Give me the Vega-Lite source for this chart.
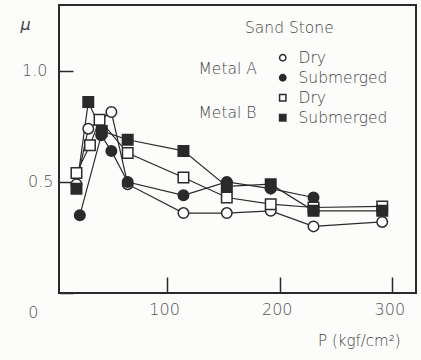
{
  "$schema": "https://vega.github.io/schema/vega-lite/v6.json",
  "width": 357,
  "height": 288,
  "autosize": "none",
  "padding": {"left": 59, "top": 5, "right": 5, "bottom": 67},
  "background": "#fcfcfb",
  "config": {
    "view": {"stroke": "#2a2a2a", "strokeWidth": 2},
    "font": "DejaVu Sans",
    "legend": {"padding": 0}
  },
  "title": {
    "text": "Sand Stone",
    "anchor": "start",
    "frame": "group",
    "orient": "top",
    "baseline": "top",
    "offset": 0,
    "dx": 186,
    "dy": 31,
    "fontSize": 15.5,
    "fontWeight": 300,
    "color": "#444"
  },
  "data": {
    "values": [
      {"p": 19.5, "mu": 0.49, "series": "A Dry", "metal": "Metal A"},
      {"p": 30, "mu": 0.74, "series": "A Dry", "metal": "Metal A"},
      {"p": 50.5, "mu": 0.815, "series": "A Dry", "metal": "Metal A"},
      {"p": 65, "mu": 0.49, "series": "A Dry", "metal": "Metal A"},
      {"p": 114.5, "mu": 0.36, "series": "A Dry", "metal": "Metal A"},
      {"p": 153, "mu": 0.36, "series": "A Dry", "metal": "Metal A"},
      {"p": 192, "mu": 0.37, "series": "A Dry", "metal": "Metal A"},
      {"p": 230, "mu": 0.3, "series": "A Dry", "metal": "Metal A"},
      {"p": 291, "mu": 0.32, "series": "A Dry", "metal": "Metal A"},
      {"p": 22.5, "mu": 0.35, "series": "A Submerged", "metal": "Metal A"},
      {"p": 41.5, "mu": 0.71, "series": "A Submerged", "metal": "Metal A"},
      {"p": 50.5, "mu": 0.64, "series": "A Submerged", "metal": "Metal A"},
      {"p": 65, "mu": 0.5, "series": "A Submerged", "metal": "Metal A"},
      {"p": 114.5, "mu": 0.44, "series": "A Submerged", "metal": "Metal A"},
      {"p": 153, "mu": 0.5, "series": "A Submerged", "metal": "Metal A"},
      {"p": 192, "mu": 0.47, "series": "A Submerged", "metal": "Metal A"},
      {"p": 230, "mu": 0.43, "series": "A Submerged", "metal": "Metal A"},
      {"p": 19.5, "mu": 0.54, "series": "B Dry", "metal": "Metal B"},
      {"p": 31.5, "mu": 0.665, "series": "B Dry", "metal": "Metal B"},
      {"p": 40, "mu": 0.78, "series": "B Dry", "metal": "Metal B"},
      {"p": 65, "mu": 0.63, "series": "B Dry", "metal": "Metal B"},
      {"p": 114.5, "mu": 0.52, "series": "B Dry", "metal": "Metal B"},
      {"p": 153, "mu": 0.43, "series": "B Dry", "metal": "Metal B"},
      {"p": 192, "mu": 0.4, "series": "B Dry", "metal": "Metal B"},
      {"p": 230, "mu": 0.385, "series": "B Dry", "metal": "Metal B"},
      {"p": 291, "mu": 0.39, "series": "B Dry", "metal": "Metal B"},
      {"p": 19.5, "mu": 0.47, "series": "B Submerged", "metal": "Metal B"},
      {"p": 30, "mu": 0.86, "series": "B Submerged", "metal": "Metal B"},
      {"p": 42, "mu": 0.73, "series": "B Submerged", "metal": "Metal B"},
      {"p": 65, "mu": 0.69, "series": "B Submerged", "metal": "Metal B"},
      {"p": 114.5, "mu": 0.64, "series": "B Submerged", "metal": "Metal B"},
      {"p": 153, "mu": 0.48, "series": "B Submerged", "metal": "Metal B"},
      {"p": 192, "mu": 0.49, "series": "B Submerged", "metal": "Metal B"},
      {"p": 230, "mu": 0.37, "series": "B Submerged", "metal": "Metal B"},
      {"p": 291, "mu": 0.37, "series": "B Submerged", "metal": "Metal B"}
    ]
  },
  "encoding": {
    "x": {
      "field": "p",
      "type": "quantitative",
      "scale": {"domain": [4, 321], "nice": false, "zero": false},
      "axis": {
        "title": "P (kgf/cm²)",
        "values": [100, 200, 300],
        "grid": false,
        "domain": false,
        "tickSize": -16,
        "tickWidth": 1.5,
        "tickColor": "#2a2a2a",
        "labelFontSize": 16,
        "labelFontWeight": 300,
        "labelColor": "#555",
        "labelPadding": 24,
        "labelOffset": -3,
        "titleFontSize": 15,
        "titleFontWeight": 300,
        "titleColor": "#444",
        "titleAlign": "right",
        "titleX": 341,
        "titleY": 47,
        "titleBaseline": "middle"
      }
    },
    "y": {
      "field": "mu",
      "type": "quantitative",
      "scale": {"domain": [0, 1.297], "nice": false, "zero": false},
      "axis": {
        "title": "μ",
        "titleAngle": 0,
        "titleX": -34,
        "titleY": 19,
        "titleAlign": "center",
        "titleBaseline": "middle",
        "titleFontStyle": "italic",
        "titleFontSize": 16,
        "titleFontWeight": 300,
        "titleColor": "#444",
        "values": [0, 0.5, 1.0],
        "labelExpr": "datum.value == 0 ? '0' : format(datum.value, '.1f')",
        "grid": false,
        "domain": false,
        "tickSize": -14,
        "tickWidth": 1.5,
        "tickColor": "#2a2a2a",
        "labelFontSize": 16,
        "labelFontWeight": 300,
        "labelColor": "#555",
        "labelPadding": {"condition": [{"test": "datum.value == 0", "value": 35}, {"test": "datum.value == 1", "value": 26}], "value": 20},
        "labelOffset": {"condition": {"test": "datum.value == 0", "value": 19}, "value": 0}
      }
    }
  },
  "layer": [
    {
      "mark": {"type": "line", "color": "#2a2a2a", "strokeWidth": 1.2},
      "encoding": {"detail": {"field": "series"}}
    },
    {
      "mark": {"type": "point", "filled": true, "opacity": 1, "stroke": "#2a2a2a", "strokeWidth": 1.5, "size": 110},
      "encoding": {
        "shape": {
          "field": "series",
          "type": "nominal",
          "scale": {"domain": ["A Dry", "A Submerged", "B Dry", "B Submerged"], "range": ["circle", "circle", "square", "square"]},
          "legend": {
            "title": null,
            "orient": "none",
            "legendX": 216,
            "legendY": 45,
            "symbolSize": 40,
            "symbolOpacity": 1,
            "labelFontSize": 15.5,
            "labelFontWeight": 300,
            "labelColor": "#444",
            "labelOffset": 8,
            "rowPadding": 3,
            "labelExpr": "indexof(datum.label, 'Dry') >= 0 ? 'Dry' : 'Submerged'",
            "encode": {"symbols": {"update": {"stroke": {"value": "#2a2a2a"}, "strokeWidth": {"value": 1.2}, "opacity": {"value": 1}}}}
          }
        },
        "fill": {
          "field": "series",
          "type": "nominal",
          "scale": {"domain": ["A Dry", "A Submerged", "B Dry", "B Submerged"], "range": ["#ffffff", "#2a2a2a", "#ffffff", "#2a2a2a"]},
          "legend": {
            "title": null,
            "orient": "none",
            "legendX": 216,
            "legendY": 45,
            "symbolSize": 40,
            "symbolOpacity": 1,
            "labelFontSize": 15.5,
            "labelFontWeight": 300,
            "labelColor": "#444",
            "labelOffset": 8,
            "rowPadding": 3,
            "labelExpr": "indexof(datum.label, 'Dry') >= 0 ? 'Dry' : 'Submerged'",
            "encode": {"symbols": {"update": {"stroke": {"value": "#2a2a2a"}, "strokeWidth": {"value": 1.2}, "opacity": {"value": 1}}}}
          }
        },
        "opacity": {
          "field": "metal",
          "type": "nominal",
          "scale": {"domain": ["Metal A", "Metal B"], "range": [1, 1]},
          "legend": {
            "title": null,
            "orient": "none",
            "legendX": 124,
            "legendY": 56,
            "symbolSize": 0,
            "symbolFillColor": "transparent",
            "symbolStrokeColor": "transparent",
            "symbolStrokeWidth": 0,
            "labelOffset": 0,
            "labelFontSize": 15.5,
            "labelFontWeight": 300,
            "labelColor": "#444",
            "rowPadding": 27,
            "encode": {"symbols": {"update": {"opacity": {"value": 0}, "fill": {"value": "transparent"}, "stroke": {"value": "transparent"}, "size": {"value": 0}}}}
          }
        }
      }
    }
  ]
}
